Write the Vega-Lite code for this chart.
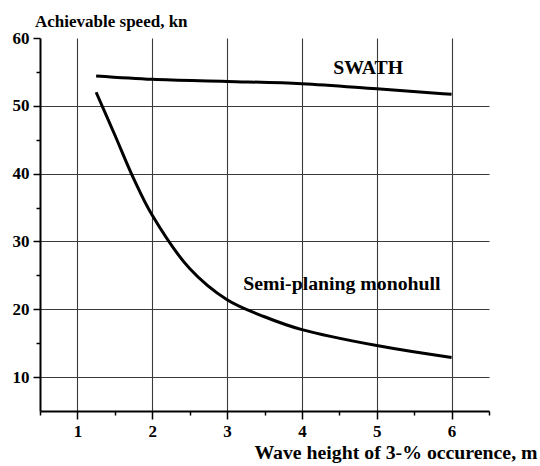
{
  "$schema": "https://vega.github.io/schema/vega-lite/v6.json",
  "width": 449,
  "height": 373,
  "autosize": {"type": "none"},
  "padding": {"left": 40, "top": 38, "right": 51, "bottom": 55},
  "background": "white",
  "title": {
    "text": "Achievable speed, kn",
    "anchor": "start",
    "frame": "group",
    "dx": -5,
    "offset": -15,
    "baseline": "alphabetic",
    "font": "Liberation Serif",
    "fontWeight": "bold",
    "fontSize": 17,
    "color": "black"
  },
  "config": {
    "view": {"stroke": null},
    "font": "Liberation Serif",
    "axis": {
      "labelFont": "Liberation Serif",
      "labelFontWeight": "bold",
      "labelFontSize": 17,
      "labelColor": "black",
      "titleFont": "Liberation Serif",
      "titleFontWeight": "bold",
      "titleFontSize": 19.8,
      "titleColor": "black",
      "domainColor": "black",
      "domainWidth": 2,
      "tickColor": "black",
      "tickWidth": 1.5,
      "gridColor": "#3a3a3a",
      "gridWidth": 1.1,
      "labelOverlap": false,
      "labelFlush": false,
      "labelBound": false
    }
  },
  "datasets": {
    "swath": [
      {"h": 1.25, "v": 54.4},
      {"h": 2, "v": 53.9},
      {"h": 3, "v": 53.6},
      {"h": 4, "v": 53.25},
      {"h": 5, "v": 52.5},
      {"h": 6, "v": 51.7}
    ],
    "semi": [
      {"h": 1.25, "v": 52.0},
      {"h": 1.5, "v": 45.7},
      {"h": 1.75, "v": 39.3},
      {"h": 2, "v": 33.85},
      {"h": 2.5, "v": 26.0},
      {"h": 3, "v": 21.4},
      {"h": 3.5, "v": 18.9},
      {"h": 4, "v": 17.0},
      {"h": 5, "v": 14.65},
      {"h": 6, "v": 12.9}
    ],
    "labels": [
      {"h": 4.886, "v": 55.6, "text": "SWATH"},
      {"h": 4.535, "v": 23.8, "text": "Semi-planing monohull"}
    ]
  },
  "resolve": {"axis": {"x": "independent", "y": "independent"}},
  "layer": [
    {
      "data": {"name": "swath"},
      "mark": {"type": "line", "color": "black", "strokeWidth": 3, "interpolate": "monotone"},
      "encoding": {
        "x": {
          "field": "h", "type": "quantitative",
          "scale": {"domain": [0.5, 6.5], "nice": false, "zero": false},
          "axis": {
            "orient": "bottom",
            "values": [1, 2, 3, 4, 5, 6],
            "grid": true, "ticks": false, "labels": false, "domain": false, "title": null
          }
        },
        "y": {
          "field": "v", "type": "quantitative",
          "scale": {"domain": [5, 60], "nice": false, "zero": false},
          "axis": {
            "orient": "left",
            "values": [10, 20, 30, 40, 50],
            "grid": true, "ticks": false, "labels": false, "domain": false, "title": null
          }
        }
      }
    },
    {
      "data": {"name": "semi"},
      "mark": {"type": "line", "color": "black", "strokeWidth": 3, "interpolate": "catmull-rom"},
      "encoding": {
        "x": {
          "field": "h", "type": "quantitative",
          "axis": {
            "orient": "bottom",
            "values": [1, 2, 3, 4, 5, 6],
            "format": "d",
            "grid": false,
            "tickSize": 8,
            "labelPadding": 4,
            "title": "Wave height of 3-% occurence, m",
            "titleAlign": "right",
            "titleAnchor": "end",
            "titleBaseline": "alphabetic",
            "titleX": 497,
            "titleY": 47
          }
        },
        "y": {
          "field": "v", "type": "quantitative",
          "axis": {
            "orient": "left",
            "values": [10, 20, 30, 40, 50, 60],
            "format": "d",
            "grid": false,
            "tickSize": 7,
            "labelPadding": 4,
            "title": null
          }
        }
      }
    },
    {
      "data": {"name": "labels"},
      "mark": {"type": "text", "font": "Liberation Serif", "fontWeight": "bold", "fontSize": 19.8, "color": "black", "align": "center", "baseline": "middle"},
      "encoding": {
        "x": {
          "field": "h", "type": "quantitative",
          "axis": {
            "orient": "bottom",
            "values": [0.5, 1.5, 2.5, 3.5, 4.5, 5.5, 6.5],
            "grid": false, "labels": false, "domain": false, "tickSize": 4, "title": null
          }
        },
        "y": {
          "field": "v", "type": "quantitative",
          "axis": {
            "orient": "left",
            "values": [15, 25, 35, 45, 55],
            "grid": false, "labels": false, "domain": false, "tickSize": 4, "title": null
          }
        },
        "text": {"field": "text"}
      }
    }
  ]
}
